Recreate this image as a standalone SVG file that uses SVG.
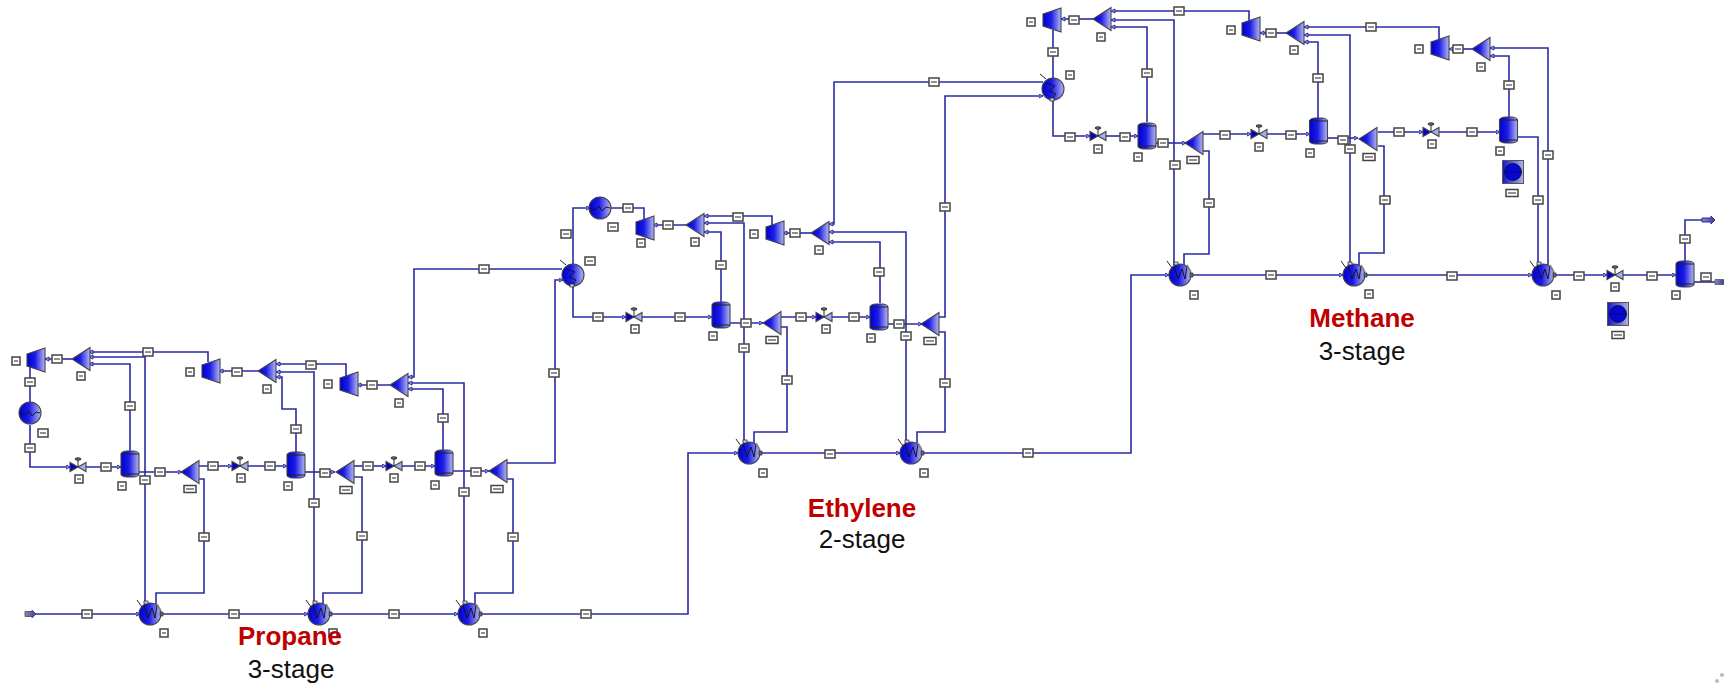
<svg xmlns="http://www.w3.org/2000/svg" width="1724" height="684" viewBox="0 0 1724 684">
<style>
.ln{fill:none;stroke:#2b2ba6;stroke-width:1.6}
.e{stroke:#444;stroke-width:1.1}
.k{fill:none;stroke:#111;stroke-width:.9}
.tb{fill:#fff;stroke:#444;stroke-width:1.5}
.h{font-family:"Liberation Sans",Arial,sans-serif;font-size:26px;font-weight:bold;fill:#c00000;text-anchor:middle}
.s{font-family:"Liberation Sans",Arial,sans-serif;font-size:26px;fill:#111;text-anchor:middle}
</style>
<defs>
<linearGradient id="g"><stop offset="0" stop-color="#0000d0"/><stop offset=".45" stop-color="#1c1ce6"/><stop offset="1" stop-color="#b4b8f0"/></linearGradient>
<linearGradient id="g2"><stop offset="0" stop-color="#1414c8"/><stop offset="1" stop-color="#b0b4e8"/></linearGradient>
<linearGradient id="ga"><stop offset="0" stop-color="#8a8fa8"/><stop offset="1" stop-color="#3a3ab0"/></linearGradient>
<marker id="a" markerUnits="userSpaceOnUse" markerWidth="6" markerHeight="6" refX="4.5" refY="2.5" orient="auto"><path d="M0.5,0.5 L4.5,2.5 L0.5,4.5Z" fill="#9fa3e8" stroke="#2b2ba6" stroke-width="1"/></marker>
<g id="t"><rect class="tb" x="-5" y="-4" width="10" height="8"/><path d="M-3,0H3" stroke="#222" stroke-width="1"/></g>
<g id="w"><rect class="tb" x="-6" y="-3.500" width="12" height="7"/><path d="M-4,0H4" stroke="#222" stroke-width="1"/></g>
<g id="b"><rect class="tb" x="-4" y="-4" width="8" height="8"/><path d="M-2,0H2" stroke="#222" stroke-width="1"/></g>
<polygon id="comp" class="e" fill="url(#g)" points="-9,-6 9,-12 9,12 -9,6"/>
<polygon id="mix" class="e" fill="url(#g)" points="-9,0 9,-11.500 9,11.500"/>
<g id="valve"><polygon class="e" fill="#0000c8" points="-8,-4.500 -8,4.500 0,0"/><polygon class="e" fill="#a8acea" points="8,-4.500 8,4.500 0,0"/><path class="k" d="M0,0V-7"/><ellipse cx="0" cy="-8" rx="3" ry="1.200" fill="#777" stroke="#111" stroke-width=".8"/></g>
<g id="drum"><rect class="e" x="-9" y="-13" width="18" height="26" rx="6" ry="3" fill="url(#g)"/><path d="M-9,-10H9M-9,10H9" stroke="#222" stroke-width="1"/></g>
<g id="hx"><circle class="e" r="11" fill="url(#g)"/><path class="k" d="M-6,-9L-2,4L2,-6L5,4L7,-9"/><path class="k" d="M-13,-14L-8,-7"/><rect x="-6" y="-13" width="4" height="3" fill="#ccc" stroke="#222" stroke-width=".7"/><path d="M7,-10L11,-3" stroke="#888" stroke-width="1.600"/><rect x="10" y="-2" width="3" height="4" fill="#666" stroke="#222" stroke-width=".6"/></g>
<g id="hxx"><circle class="e" r="11" fill="url(#g)"/><path class="k" d="M-7,-6L2,-3L-4,2L3,5L-1,10"/><path class="k" d="M-13,-15L-7,-10"/><rect x="-3" y="9" width="4" height="3" fill="#ccc" stroke="#222" stroke-width=".7"/></g>
<g id="cool"><circle class="e" r="11" fill="url(#g)"/><path class="k" d="M-10,0L-5,2L-1,-2L2,3L6,-1L10,0"/></g>
<g id="sq"><rect x="-10.500" y="-11.500" width="21" height="23" fill="url(#g2)" stroke="#555" stroke-width="1"/><circle r="8.500" fill="#0505d8" stroke="#111" stroke-width=".8"/><path d="M-8.500,0H8.500" stroke="#111" stroke-width=".8"/></g>
</defs>
<rect width="1724" height="684" fill="#fff"/>
<g id="connectors" class="ln">
<path marker-end="url(#a)" d="M35,614H140"/><path marker-end="url(#a)" d="M161,614H308"/><path marker-end="url(#a)" d="M329,614H458"/><path marker-end="url(#a)" d="M480,614H688V453H738"/><path marker-end="url(#a)" d="M760,453H900"/><path marker-end="url(#a)" d="M922,453H1131V275H1169"/><path marker-end="url(#a)" d="M1191,275H1343"/><path marker-end="url(#a)" d="M1365,275H1532"/><path marker-end="url(#a)" d="M1554,275H1607"/><path marker-end="url(#a)" d="M1623,275H1676"/><path d="M1685,261V220H1702"/><path d="M1693,282H1715"/>
<path d="M30,366V403"/><path marker-end="url(#a)" d="M30,425V467H70"/><path marker-end="url(#a)" d="M86,467H121"/><path marker-end="url(#a)" d="M130,451V364H89"/><path marker-end="url(#a)" d="M139,472H182"/><path marker-end="url(#a)" d="M145,604V357H89"/><path marker-end="url(#a)" d="M72,359H45"/><path marker-end="url(#a)" d="M198,466H232"/><path marker-end="url(#a)" d="M248,466H287"/><path d="M198,479H204V593H156V604"/><path marker-end="url(#a)" d="M296,452V409H282V377H276"/><path marker-end="url(#a)" d="M314,604V372H276"/><path marker-end="url(#a)" d="M305,472H335"/><path marker-end="url(#a)" d="M354,466H386"/><path marker-end="url(#a)" d="M402,466H435"/><path d="M354,477H362V593H323V604"/><path marker-end="url(#a)" d="M346,376V364H276"/><path marker-end="url(#a)" d="M208,362V352H89"/><path marker-end="url(#a)" d="M258,371H219"/><path marker-end="url(#a)" d="M390,385H357"/><path marker-end="url(#a)" d="M443,450V389H408"/><path marker-end="url(#a)" d="M464,604V383H408"/><path marker-end="url(#a)" d="M562,269H414V377H408"/><path marker-end="url(#a)" d="M452,471H489"/><path marker-end="url(#a)" d="M507,463H555V280H563"/><path d="M507,479H513V593H475V604"/>
<path marker-end="url(#a)" d="M573,264V208H590"/><path d="M610,208H644V220"/><path marker-end="url(#a)" d="M687,225H653"/><path marker-end="url(#a)" d="M772,226V216H704"/><path marker-end="url(#a)" d="M744,442V223H704"/><path marker-end="url(#a)" d="M721,302V232H704"/><path marker-end="url(#a)" d="M573,286V317H626"/><path marker-end="url(#a)" d="M642,317H712"/><path marker-end="url(#a)" d="M730,323H763"/><path marker-end="url(#a)" d="M781,317H816"/><path marker-end="url(#a)" d="M832,317H870"/><path d="M781,327H787V432H754V443"/><path marker-end="url(#a)" d="M812,233H783"/><path marker-end="url(#a)" d="M1043,82H834V224H829"/><path marker-end="url(#a)" d="M906,443V232H829"/><path marker-end="url(#a)" d="M880,303V242H829"/><path marker-end="url(#a)" d="M888,324H922"/><path marker-end="url(#a)" d="M938,317H945V96H1043"/><path d="M938,332H945V432H917V443"/>
<path d="M1053,78V30"/><path marker-end="url(#a)" d="M1093,19H1061"/><path marker-end="url(#a)" d="M1249,22V11H1111"/><path marker-end="url(#a)" d="M1174,265V20H1111"/><path marker-end="url(#a)" d="M1147,122V27H1111"/><path marker-end="url(#a)" d="M1053,100V136H1090"/><path marker-end="url(#a)" d="M1106,136H1138"/><path marker-end="url(#a)" d="M1156,143H1186"/><path marker-end="url(#a)" d="M1202,134H1251"/><path marker-end="url(#a)" d="M1267,134H1310"/><path d="M1202,151H1209V254H1184V265"/><path marker-end="url(#a)" d="M1287,33H1260"/><path marker-end="url(#a)" d="M1439,40V27H1304"/><path marker-end="url(#a)" d="M1350,265V35H1304"/><path marker-end="url(#a)" d="M1318,118V42H1304"/><path marker-end="url(#a)" d="M1327,138H1358"/><path marker-end="url(#a)" d="M1378,132H1423"/><path marker-end="url(#a)" d="M1439,132H1500"/><path d="M1378,146H1384V253H1359V265"/><path marker-end="url(#a)" d="M1473,49H1449"/><path marker-end="url(#a)" d="M1548,265V48H1490"/><path marker-end="url(#a)" d="M1509,117V56H1490"/><path d="M1517,137H1538V265"/>
</g>
<g id="stream-tags">
<use href="#t" x="57" y="359"/><use href="#t" x="30" y="382"/><use href="#t" x="30" y="448"/><use href="#t" x="106" y="467"/><use href="#t" x="130" y="406"/><use href="#t" x="148" y="352"/><use href="#t" x="145" y="480"/><use href="#t" x="160" y="472"/><use href="#t" x="213" y="466"/><use href="#t" x="270" y="466"/><use href="#t" x="204" y="537"/><use href="#t" x="87" y="614"/><use href="#t" x="234" y="614"/><use href="#t" x="237" y="372"/><use href="#t" x="296" y="429"/><use href="#t" x="311" y="365"/><use href="#t" x="314" y="503"/><use href="#t" x="325" y="473"/><use href="#t" x="368" y="466"/><use href="#t" x="420" y="466"/><use href="#t" x="362" y="536"/><use href="#t" x="394" y="614"/><use href="#t" x="372" y="385"/><use href="#t" x="484" y="269"/><use href="#t" x="443" y="418"/><use href="#t" x="464" y="492"/><use href="#t" x="476" y="472"/><use href="#t" x="513" y="537"/><use href="#t" x="554" y="373"/><use href="#t" x="586" y="614"/>
<use href="#t" x="566" y="234"/><use href="#t" x="628" y="208"/><use href="#t" x="668" y="225"/><use href="#t" x="738" y="217"/><use href="#t" x="721" y="265"/><use href="#t" x="598" y="317"/><use href="#t" x="680" y="317"/><use href="#t" x="746" y="323"/><use href="#t" x="744" y="348"/><use href="#t" x="801" y="317"/><use href="#t" x="854" y="317"/><use href="#t" x="787" y="380"/><use href="#t" x="830" y="454"/><use href="#t" x="795" y="233"/><use href="#t" x="934" y="82"/><use href="#t" x="879" y="272"/><use href="#t" x="906" y="336"/><use href="#t" x="899" y="324"/><use href="#t" x="945" y="207"/><use href="#t" x="945" y="383"/><use href="#t" x="1028" y="453"/>
<use href="#t" x="1053" y="52"/><use href="#t" x="1074" y="20"/><use href="#t" x="1179" y="11"/><use href="#t" x="1147" y="73"/><use href="#t" x="1070" y="137"/><use href="#t" x="1125" y="137"/><use href="#t" x="1163" y="143"/><use href="#t" x="1175" y="165"/><use href="#t" x="1225" y="135"/><use href="#t" x="1291" y="135"/><use href="#t" x="1209" y="203"/><use href="#t" x="1271" y="275"/><use href="#t" x="1271" y="33"/><use href="#t" x="1371" y="27"/><use href="#t" x="1318" y="78"/><use href="#t" x="1343" y="140"/><use href="#t" x="1350" y="149"/><use href="#t" x="1399" y="132"/><use href="#t" x="1472" y="132"/><use href="#t" x="1385" y="200"/><use href="#t" x="1538" y="200"/><use href="#t" x="1458" y="49"/><use href="#t" x="1548" y="155"/><use href="#t" x="1509" y="85"/><use href="#t" x="1452" y="276"/><use href="#t" x="1579" y="276"/><use href="#t" x="1652" y="276"/><use href="#t" x="1685" y="239"/><use href="#t" x="1706" y="277"/>
</g>
<g id="feed"><path d="M25,611.500H32V610L36,614L32,618V616.500H25Z" fill="url(#ga)" stroke="#445" stroke-width=".8"/></g>
<g id="out-top"><path d="M1702,218H1711V216L1715,220L1711,224V222H1702Z" fill="url(#ga)" stroke="#2b2ba6" stroke-width="1"/></g>
<g id="out-bottom"><path d="M1715,279.500H1724V284.500H1715Z" fill="url(#ga)" stroke="#556" stroke-width=".8"/></g>
<g id="C1"><use href="#comp" x="36" y="360"/><use href="#b" x="16" y="361"/></g>
<g id="C2"><use href="#comp" x="211" y="371"/><use href="#b" x="190" y="372"/></g>
<g id="C3"><use href="#comp" x="349" y="384"/><use href="#b" x="328" y="384"/></g>
<g id="C4"><use href="#comp" x="645" y="228"/><use href="#b" x="641" y="243"/></g>
<g id="C5"><use href="#comp" x="775" y="233"/><use href="#b" x="754" y="234"/></g>
<g id="C6"><use href="#comp" x="1052" y="20"/><use href="#b" x="1031" y="22"/></g>
<g id="C7"><use href="#comp" x="1251" y="29"/><use href="#b" x="1231" y="30"/></g>
<g id="C8"><use href="#comp" x="1440" y="48"/><use href="#b" x="1419" y="49"/></g>
<g id="M1"><use href="#mix" x="81" y="359"/><use href="#b" x="81" y="376"/></g>
<g id="M2"><use href="#mix" x="190" y="472"/><use href="#w" x="190" y="489"/></g>
<g id="M3"><use href="#mix" x="267" y="371"/><use href="#b" x="267" y="389"/></g>
<g id="M4"><use href="#mix" x="345" y="472"/><use href="#w" x="346" y="490"/></g>
<g id="M5"><use href="#mix" x="399" y="385"/><use href="#b" x="399" y="403"/></g>
<g id="M6"><use href="#mix" x="498" y="471"/><use href="#w" x="497" y="489"/></g>
<g id="M7"><use href="#mix" x="695" y="225"/><use href="#b" x="695" y="242"/></g>
<g id="M8"><use href="#mix" x="772" y="323"/><use href="#w" x="772" y="340"/></g>
<g id="M9"><use href="#mix" x="820" y="233"/><use href="#b" x="819" y="250"/></g>
<g id="M10"><use href="#mix" x="930" y="324"/><use href="#w" x="930" y="341"/></g>
<g id="M11"><use href="#mix" x="1102" y="19"/><use href="#b" x="1101" y="37"/></g>
<g id="M12"><use href="#mix" x="1194" y="143"/><use href="#w" x="1193" y="160"/></g>
<g id="M13"><use href="#mix" x="1295" y="33"/><use href="#b" x="1294" y="50"/></g>
<g id="M14"><use href="#mix" x="1368" y="139"/><use href="#w" x="1369" y="157"/></g>
<g id="M15"><use href="#mix" x="1481" y="49"/><use href="#b" x="1481" y="67"/></g>
<g id="V1"><use href="#valve" x="78" y="467"/><use href="#b" x="79" y="479"/></g>
<g id="V2"><use href="#valve" x="240" y="466"/><use href="#b" x="241" y="478"/></g>
<g id="V3"><use href="#valve" x="394" y="466"/><use href="#b" x="394" y="478"/></g>
<g id="V4"><use href="#valve" x="634" y="317"/><use href="#b" x="635" y="329"/></g>
<g id="V5"><use href="#valve" x="824" y="317"/><use href="#b" x="826" y="329"/></g>
<g id="V6"><use href="#valve" x="1098" y="136"/><use href="#b" x="1098" y="149"/></g>
<g id="V7"><use href="#valve" x="1259" y="134"/><use href="#b" x="1259" y="147"/></g>
<g id="V8"><use href="#valve" x="1431" y="132"/><use href="#b" x="1432" y="144"/></g>
<g id="V9"><use href="#valve" x="1615" y="275"/><use href="#b" x="1615" y="287"/></g>
<g id="D1"><use href="#drum" x="130" y="464"/><use href="#b" x="122" y="486"/></g>
<g id="D2"><use href="#drum" x="296" y="465"/><use href="#b" x="288" y="486"/></g>
<g id="D3"><use href="#drum" x="444" y="463"/><use href="#b" x="435" y="485"/></g>
<g id="D4"><use href="#drum" x="721" y="315"/><use href="#b" x="713" y="336"/></g>
<g id="D5"><use href="#drum" x="879" y="317"/><use href="#b" x="871" y="338"/></g>
<g id="D6"><use href="#drum" x="1147" y="136"/><use href="#b" x="1138" y="157"/></g>
<g id="D7"><use href="#drum" x="1318.500" y="131"/><use href="#b" x="1310" y="153"/></g>
<g id="D8"><use href="#drum" x="1508.500" y="130"/><use href="#b" x="1500" y="151"/></g>
<g id="D9"><use href="#drum" x="1685" y="274"/><use href="#b" x="1676" y="295"/></g>
<g id="H1"><use href="#hx" x="150" y="614"/><use href="#b" x="164" y="633"/></g>
<g id="H2"><use href="#hx" x="319" y="614"/><use href="#b" x="333" y="633"/></g>
<g id="H3"><use href="#hx" x="469" y="614"/><use href="#b" x="483" y="633"/></g>
<g id="H4"><use href="#hx" x="749" y="453"/><use href="#b" x="763" y="473"/></g>
<g id="H5"><use href="#hx" x="911" y="453"/><use href="#b" x="924" y="473"/></g>
<g id="H6"><use href="#hx" x="1180" y="275"/><use href="#b" x="1194" y="295"/></g>
<g id="H7"><use href="#hx" x="1354" y="275"/><use href="#b" x="1369" y="294"/></g>
<g id="H8"><use href="#hx" x="1543" y="275"/><use href="#b" x="1556" y="295"/></g>
<g id="X1"><use href="#hxx" x="573" y="275"/><use href="#t" x="590" y="261"/></g>
<g id="X2"><use href="#hxx" x="1053" y="89"/><use href="#b" x="1070" y="75"/></g>
<g id="K1"><use href="#cool" x="30" y="413"/><use href="#t" x="43" y="433"/></g>
<g id="K2"><use href="#cool" x="600" y="208"/><use href="#t" x="613" y="227"/></g>
<g id="S1"><use href="#sq" x="1513" y="172"/><use href="#w" x="1512" y="193"/></g>
<g id="S2"><use href="#sq" x="1618" y="314"/><use href="#w" x="1618" y="335"/></g>
<g id="labels">
<text class="h" x="290" y="645">Propane</text><text class="s" x="291" y="678">3-stage</text>
<text class="h" x="862" y="517">Ethylene</text><text class="s" x="862" y="548">2-stage</text>
<text class="h" x="1362" y="327">Methane</text><text class="s" x="1362" y="360">3-stage</text>
</g>
<g id="corner" fill="#bbb"><circle cx="1722" cy="675" r="2"/><circle cx="1717" cy="681" r="2"/></g>
</svg>
